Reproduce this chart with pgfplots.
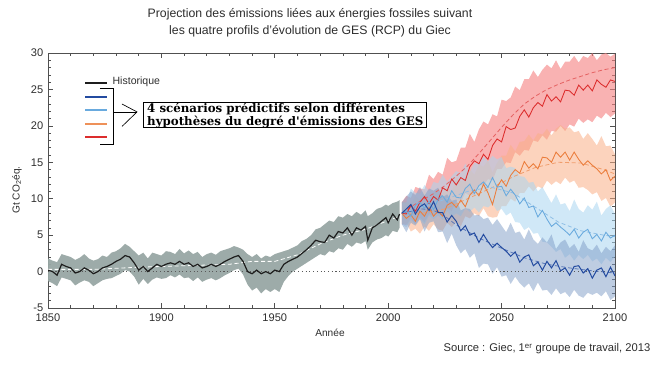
\documentclass[border=0pt]{standalone}
\usepackage{pgfplots}
\pgfplotsset{compat=1.18}
\usepackage{pgfplotstable}
\usepgfplotslibrary{fillbetween}
\usepackage{fontspec}
\setmainfont{Liberation Sans}
\newfontfamily\boxfont{DejaVu Serif}

\definecolor{histband}{RGB}{152,167,164}
\definecolor{histline}{RGB}{30,30,30}
\definecolor{cA}{RGB}{35,75,160}
\definecolor{cAb}{RGB}{125,155,198}
\definecolor{cB}{RGB}{105,170,222}
\definecolor{cBb}{RGB}{170,213,240}
\definecolor{cC}{RGB}{235,125,60}
\definecolor{cCb}{RGB}{250,175,135}
\definecolor{cD}{RGB}{220,45,45}
\definecolor{cDb}{RGB}{245,130,130}
\definecolor{axgray}{RGB}{80,80,80}
\definecolor{txt}{RGB}{45,45,45}

\pgfplotstableread{
x y lo hi
1850 0.2 -1.3 1.8
1852 0.0 -1.6 1.5
1854 -0.5 -2.0 1.3
1856 1.0 -0.8 2.4
1858 0.7 -1.0 2.2
1860 0.5 -1.2 2.0
1862 -0.2 -1.9 1.6
1864 0.0 -1.5 1.9
1866 0.5 -1.2 2.4
1868 0.2 -1.4 1.8
1870 -0.3 -2.0 1.5
1872 0.0 -1.6 1.7
1874 0.5 -1.2 2.2
1876 0.7 -1.0 2.0
1878 1.0 -0.9 2.6
1880 1.4 -0.6 2.8
1882 1.7 -0.3 3.2
1884 2.2 0.2 3.8
1886 2.0 0.0 3.4
1888 1.2 -0.7 2.8
1890 0.2 -1.8 2.2
1892 0.7 -1.0 2.6
1894 0.0 -1.7 1.8
1896 0.5 -1.1 2.6
1898 1.0 -0.8 2.4
1900 0.7 -1.0 2.2
1902 1.0 -0.9 2.8
1904 1.2 -0.5 2.7
1906 1.0 -0.8 2.4
1908 1.4 -0.4 3.1
1910 1.0 -0.9 2.5
1912 1.2 -0.8 2.9
1914 0.7 -1.3 2.4
1916 1.0 -0.8 2.7
1918 0.5 -1.4 2.0
1920 0.7 -1.1 2.4
1922 1.0 -0.9 2.6
1924 0.7 -1.2 2.3
1926 1.0 -0.9 2.8
1928 1.4 -0.5 3.0
1930 1.7 -0.2 3.2
1932 2.0 0.2 3.5
1934 2.2 0.4 3.3
1936 1.4 -0.4 3.0
1938 0.0 -1.8 2.4
1940 -0.3 -2.6 2.0
1942 0.2 -2.2 2.4
1944 -0.3 -3.0 1.8
1946 0.0 -2.4 2.2
1948 -0.3 -2.8 2.0
1950 0.2 -2.4 2.4
1952 0.0 -2.8 2.6
1954 1.0 -1.4 2.8
1956 1.4 -0.6 3.0
1958 1.7 0.0 3.3
1960 2.0 0.4 3.6
1962 2.5 0.8 4.2
1964 3.0 1.2 4.5
1966 3.6 1.6 5.0
1968 4.3 2.0 5.8
1970 4.1 2.4 6.0
1972 4.0 2.2 6.5
1974 5.0 2.8 7.0
1976 4.6 2.6 6.8
1978 5.5 3.2 7.6
1980 5.3 3.0 7.4
1982 6.0 3.8 7.9
1984 5.0 3.4 7.6
1986 6.0 4.0 8.2
1988 5.7 3.8 7.8
1990 6.2 4.2 8.4
1991 4.3 3.0 7.6
1993 6.0 4.0 8.0
1995 6.4 4.4 8.6
1997 6.9 4.6 8.8
1999 7.4 5.0 9.2
2000 6.7 4.8 9.0
2002 7.9 5.6 9.4
2004 7.1 5.4 9.6
2005 7.9 6.0 9.8
}\hist

\pgfplotstableread{
x y lo hi
2006 8.0 6.5 9.5
2008 7.9 6.4 10.4
2010 9.1 7.3 10.1
2012 8.3 6.5 11.6
2014 9.5 7.4 11.4
2016 10.3 6.8 11.3
2018 9.3 7.9 13.3
2020 10.3 7.6 12.7
2022 9.8 8.6 13.7
2024 11.5 7.9 13.3
2026 11.1 8.7 15.6
2028 12.7 8.3 15.0
2030 11.9 9.7 15.2
2032 12.9 9.5 17.0
2034 12.5 10.8 17.0
2036 14.4 10.4 18.9
2038 15.2 10.6 17.8
2040 14.8 12.0 19.5
2042 16.1 11.8 20.6
2044 15.4 12.7 20.2
2046 17.3 12.5 21.6
2048 18.2 14.1 21.3
2050 17.8 14.1 23.6
2052 19.9 15.0 23.4
2054 19.5 14.9 23.9
2056 19.7 16.4 25.4
2058 21.3 15.9 24.9
2060 22.2 16.7 26.4
2062 21.2 16.6 26.4
2064 22.5 18.0 27.6
2066 23.2 17.8 26.7
2068 22.7 18.7 27.7
2070 24.3 18.1 28.4
2072 23.4 19.3 27.9
2074 24.0 19.2 29.0
2076 23.3 20.0 27.8
2078 24.9 19.3 28.8
2080 24.8 20.2 28.8
2082 24.2 19.9 29.6
2084 25.6 21.0 28.7
2086 24.9 20.4 29.6
2088 25.6 20.9 29.3
2090 24.8 20.5 30.0
2092 26.3 21.4 29.0
2094 25.7 21.0 29.8
2096 25.3 21.8 30.0
2098 26.3 21.2 29.5
2100 26.1 21.7 29.9
}\rcpD

\pgfplotstableread{
x y lo hi
2006 8.0 6.5 9.5
2008 7.3 6.7 9.6
2010 7.8 5.5 9.1
2012 6.9 5.9 10.3
2014 8.3 5.2 9.8
2016 7.6 6.2 11.2
2018 8.8 5.6 9.5
2020 7.6 6.5 10.7
2022 8.3 5.8 11.5
2024 7.6 5.6 10.7
2026 9.1 6.7 11.7
2028 9.5 6.1 10.9
2030 8.8 6.8 12.9
2032 9.8 6.2 12.4
2034 8.9 7.6 12.6
2036 10.5 7.3 14.0
2038 11.2 8.0 13.3
2040 10.4 7.6 14.7
2042 12.0 8.7 14.4
2044 10.8 7.6 15.3
2046 9.2 7.4 13.6
2048 11.6 7.5 14.9
2050 12.6 9.0 15.9
2052 11.7 9.0 15.9
2054 13.2 10.0 17.4
2056 14.0 9.6 16.5
2058 13.5 10.8 17.8
2060 15.1 10.8 17.9
2062 14.2 11.7 18.8
2064 14.8 11.0 18.0
2066 14.1 11.7 19.0
2068 15.7 11.4 18.8
2070 15.6 12.5 19.6
2072 15.0 11.9 18.7
2074 16.4 12.4 19.6
2076 15.7 12.0 20.1
2078 16.4 12.9 19.6
2080 15.3 12.2 19.8
2082 16.4 12.5 19.1
2084 15.4 11.5 19.3
2086 14.6 11.6 18.2
2088 15.2 11.2 19.0
2090 14.6 10.6 18.2
2092 14.1 10.9 17.3
2094 13.4 9.7 18.6
2096 14.0 10.1 17.2
2098 12.5 8.9 17.3
2100 13.1 9.5 16.1
}\rcpC

\pgfplotstableread{
x y lo hi
2006 8.0 6.5 9.5
2008 8.3 6.1 9.5
2010 7.6 7.1 11.4
2012 9.1 6.5 10.8
2014 9.5 7.2 10.7
2016 8.7 6.5 11.9
2018 9.6 7.7 11.0
2020 8.5 7.2 12.3
2022 9.9 7.7 12.1
2024 10.4 7.1 13.3
2026 9.5 8.3 12.3
2028 11.1 7.5 13.1
2030 10.2 8.0 13.8
2032 10.1 7.6 13.5
2034 11.4 8.7 14.8
2036 12.0 8.2 13.7
2038 10.7 8.8 14.9
2040 11.8 8.1 15.0
2042 12.3 9.0 15.8
2044 11.6 8.8 15.1
2046 12.9 9.3 15.9
2048 11.6 8.3 15.4
2050 11.7 8.6 15.7
2052 10.4 7.7 14.2
2054 11.3 8.1 14.4
2056 10.5 6.8 14.2
2058 9.3 6.7 13.1
2060 10.1 5.7 13.0
2062 8.8 6.1 12.2
2064 9.0 5.2 12.3
2066 7.5 5.3 11.0
2068 8.4 4.1 11.6
2070 7.2 4.0 10.5
2072 6.2 3.4 9.4
2074 6.7 2.7 10.6
2076 6.1 3.1 9.2
2078 5.6 1.9 9.4
2080 5.0 2.4 8.3
2082 5.8 1.5 9.9
2084 4.6 2.3 8.6
2086 5.4 1.7 8.1
2088 5.8 2.3 9.1
2090 4.5 1.4 8.5
2092 5.1 1.8 9.6
2094 4.2 1.0 7.7
2096 5.4 1.9 8.6
2098 4.6 1.3 9.1
2100 5.0 2.1 7.9
}\rcpB

\pgfplotstableread{
x y lo hi
2006 8.0 6.5 9.5
2008 8.6 5.4 10.3
2010 9.2 6.7 11.0
2012 7.9 6.3 10.5
2014 8.9 7.2 11.6
2016 9.3 5.5 10.4
2018 8.4 6.7 11.4
2020 9.6 6.9 11.1
2022 8.1 5.4 11.5
2024 8.1 5.5 10.2
2026 6.8 3.9 10.6
2028 7.7 5.2 9.7
2030 6.9 3.6 9.9
2032 5.6 2.5 8.4
2034 6.3 3.1 8.7
2036 5.0 1.9 8.6
2038 5.3 2.5 7.7
2040 4.0 0.5 7.8
2042 5.1 1.1 7.2
2044 4.1 1.0 7.4
2046 3.3 -0.3 6.4
2048 3.9 0.6 7.2
2050 3.3 -0.7 6.3
2052 2.8 -0.5 5.4
2054 2.1 -1.7 6.7
2056 2.7 -0.7 5.3
2058 1.3 -1.6 5.5
2060 2.0 -2.2 4.4
2062 2.3 -1.6 5.8
2064 0.8 -2.7 4.4
2066 1.3 -1.5 3.8
2068 0.2 -2.6 4.7
2070 1.4 -2.5 4.0
2072 0.5 -3.2 5.1
2074 1.5 -2.3 3.1
2076 0.1 -3.1 4.0
2078 0.5 -2.8 4.4
2080 -0.5 -3.5 3.2
2082 0.7 -2.5 3.8
2084 0.8 -3.3 2.7
2086 -0.2 -3.6 4.3
2088 0.4 -2.9 3.2
2090 -0.9 -3.2 2.9
2092 0.2 -2.9 3.7
2094 0.5 -3.4 2.5
2096 -0.7 -2.7 3.4
2098 0.6 -3.9 2.8
2100 -0.6 -3.4 3.6
}\rcpA

\begin{document}
\begin{tikzpicture}
\begin{axis}[
  at={(36pt,45.75pt)}, anchor=south west,
  scale only axis, width=425.25pt, height=191.25pt,
  xmin=1850, xmax=2100, ymin=-5, ymax=30,
  xtick={1850,1900,1950,2000,2050,2100},
  ytick={-5,0,5,10,15,20,25,30},
  minor x tick num=4, minor y tick num=4,
  tick align=inside, major tick length=3.5pt, minor tick length=2pt,
  axis line style={axgray, line width=0.6pt},
  every tick/.style={axgray, line width=0.5pt},
  ticklabel style={font=\fontsize{8.3}{10}\selectfont, text=txt},
  /pgf/number format/assume math mode=true,
  /pgf/number format/1000 sep={},
  xticklabel style={yshift=-1pt},
  clip=true,
]
% historical band
\addplot[draw=none, name path=hH, forget plot] table[x=x,y=hi]{\hist};
\addplot[draw=none, name path=hL, forget plot] table[x=x,y=lo]{\hist};
\addplot[histband, fill opacity=0.95, forget plot] fill between[of=hH and hL];
% scenario bands
\addplot[draw=none, name path=dH, forget plot] table[x=x,y=hi]{\rcpD};
\addplot[draw=none, name path=dL, forget plot] table[x=x,y=lo]{\rcpD};
\addplot[cDb, fill opacity=0.62, forget plot] fill between[of=dH and dL];
\addplot[draw=none, name path=cH, forget plot] table[x=x,y=hi]{\rcpC};
\addplot[draw=none, name path=cL, forget plot] table[x=x,y=lo]{\rcpC};
\addplot[cCb, fill opacity=0.55, forget plot] fill between[of=cH and cL];
\addplot[draw=none, name path=bH, forget plot] table[x=x,y=hi]{\rcpB};
\addplot[draw=none, name path=bL, forget plot] table[x=x,y=lo]{\rcpB};
\addplot[cBb, fill opacity=0.55, forget plot] fill between[of=bH and bL];
\addplot[draw=none, name path=aH, forget plot] table[x=x,y=hi]{\rcpA};
\addplot[draw=none, name path=aL, forget plot] table[x=x,y=lo]{\rcpA};
\addplot[cAb, fill opacity=0.5, forget plot] fill between[of=aH and aL];
% zero line
\addplot[black!65, line width=0.6pt, dash pattern=on 0.8pt off 2pt] coordinates {(1850,0) (2100,0)};
% model means (dashed)
\addplot[white, line width=0.6pt, dash pattern=on 3pt off 2pt] coordinates {(1850,0.3)(1870,0.3)(1890,0.6)(1910,0.8)(1930,1.0)(1940,1.4)(1950,1.4)(1960,2.3)(1970,3.8)(1980,5.0)(1990,5.8)(2000,7.0)(2005,7.6)};
\addplot[cD!75, line width=0.6pt, dash pattern=on 3pt off 2pt] coordinates {(2006,8)(2010,8.9)(2015,9.8)(2020,10.7)(2025,11.8)(2030,13.1)(2035,14.5)(2040,16.2)(2045,18.0)(2050,19.8)(2055,21.5)(2060,23.0)(2065,24.1)(2070,25.0)(2075,25.7)(2080,26.3)(2085,26.8)(2090,27.3)(2095,27.7)(2100,28.0)};
\addplot[cC!75, line width=0.6pt, dash pattern=on 3pt off 2pt] coordinates {(2006,8)(2015,8.0)(2025,8.6)(2035,10.0)(2045,11.4)(2055,13.0)(2065,14.3)(2075,15.0)(2085,14.9)(2095,14.0)(2100,13.4)};
\addplot[cB!75, line width=0.6pt, dash pattern=on 3pt off 2pt] coordinates {(2006,8)(2015,8.9)(2025,9.9)(2035,11.0)(2045,11.6)(2055,10.8)(2065,8.8)(2075,6.8)(2085,5.6)(2095,5.0)(2100,4.8)};
\addplot[cA!75, line width=0.6pt, dash pattern=on 3pt off 2pt] coordinates {(2006,8)(2015,8.6)(2020,8.4)(2025,7.6)(2030,6.4)(2040,4.6)(2050,3.2)(2060,1.9)(2070,1.0)(2080,0.5)(2090,0.1)(2100,-0.2)};
% lines
\addplot[histline, line width=0.9pt] table[x=x,y=y]{\hist};
\addplot[cD, line width=0.65pt] table[x=x,y=y]{\rcpD};
\addplot[cC, line width=0.65pt] table[x=x,y=y]{\rcpC};
\addplot[cB, line width=0.65pt] table[x=x,y=y]{\rcpB};
\addplot[cA, line width=0.75pt] table[x=x,y=y]{\rcpA};
% legend
\draw[histline, line width=2pt] (rel axis cs:0.0653,0.882) -- (rel axis cs:0.104,0.882);
\draw[cA, line width=2pt] (rel axis cs:0.0653,0.827) -- (rel axis cs:0.104,0.827);
\draw[cB, line width=2pt] (rel axis cs:0.0653,0.776) -- (rel axis cs:0.104,0.776);
\draw[cC!85, line width=2pt] (rel axis cs:0.0653,0.722) -- (rel axis cs:0.104,0.722);
\draw[cD, line width=2pt] (rel axis cs:0.0653,0.671) -- (rel axis cs:0.104,0.671);
\node[anchor=west, inner sep=0pt, font=\fontsize{7.9}{9}\selectfont, text=txt] at (rel axis cs:0.1135,0.886) {Historique};
\draw[black, line width=0.7pt] (rel axis cs:0.0917,0.859) -- (rel axis cs:0.1146,0.859) -- (rel axis cs:0.1146,0.643) -- (rel axis cs:0.0917,0.643);
\draw[black, line width=0.5pt] (rel axis cs:0.1146,0.769) -- (rel axis cs:0.157,0.769);
\draw[black, line width=0.5pt] (rel axis cs:0.1305,0.800) -- (rel axis cs:0.157,0.769) -- (rel axis cs:0.1305,0.712);
\draw[black, line width=0.8pt, fill=white] (rel axis cs:0.169,0.708) rectangle (rel axis cs:0.668,0.806);
\node[anchor=west, inner sep=0pt, align=left, font=\boxfont\bfseries\fontsize{8.85}{9.6}\selectfont] at (rel axis cs:0.1745,0.755) {4 scénarios prédictifs selon différentes\\hypothèses du degré d'émissions des GES};
\end{axis}
\node[align=center, font=\fontsize{9.2}{12.75}\selectfont, text=txt] at (232.5pt,259.5pt) {Projection des émissions liées aux énergies fossiles suivant\\les quatre profils d'évolution de GES (RCP) du Giec};
\node[rotate=90, font=\fontsize{7.6}{9}\selectfont, text=txt] at (12.75pt,134.25pt) {Gt CO\textsubscript{2}éq.};
\node[font=\fontsize{7.6}{9}\selectfont, text=txt] at (247.5pt,27pt) {Année};
\node[anchor=east, font=\fontsize{8.4}{10}\selectfont, text=txt] at (491.25pt,15pt) {Source : Giec, 1\textsuperscript{er} groupe de travail, 2013};
\path (0,0) rectangle (495.75pt,276.75pt);
\end{tikzpicture}
\end{document}
